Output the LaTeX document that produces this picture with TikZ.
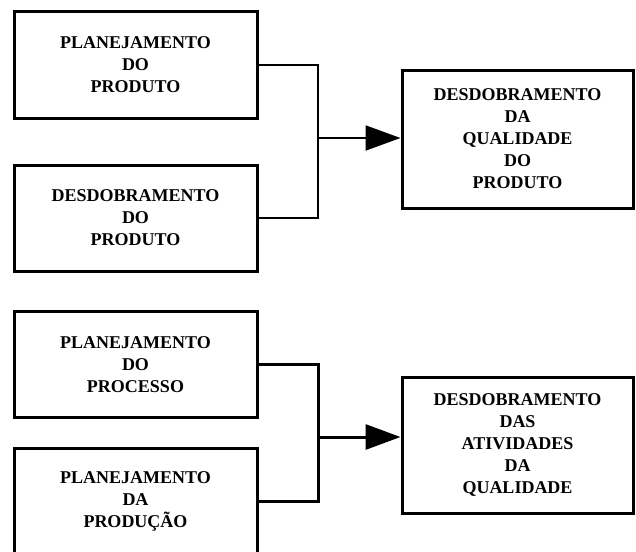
\documentclass[tikz,border=0pt]{standalone}
\usepackage{fontspec}
\setmainfont{Liberation Serif}
\usetikzlibrary{arrows.meta}

\begin{document}
\begin{tikzpicture}[x=1pt,y=-1pt,>={Triangle[length=35pt,width=25pt]},line width=2.5pt,
  bloco/.style={draw,line width=3pt,align=center,inner sep=0pt,
    minimum width=243pt,minimum height=106pt,
    font=\fontsize{18}{22}\selectfont\bfseries},
  blocod/.style={bloco,minimum width=231pt}]
\useasboundingbox (0,0) rectangle (636,551);
% entradas
\node[bloco] (plprod) at (135.5,65) {PLANEJAMENTO\\DO\\PRODUTO};
\node[bloco] (dsprod) at (135.5,218) {DESDOBRAMENTO\\DO\\PRODUTO};
\node[bloco] (plproc) at (135.5,364.5) {PLANEJAMENTO\\DO\\PROCESSO};
\node[bloco] (plpdc) at (135.5,501) {PLANEJAMENTO\\DA\\PRODUÇÃO};
% resultados
\node[blocod,minimum height=138pt] (dqp) at (517.5,139) {DESDOBRAMENTO\\DA\\QUALIDADE\\DO\\PRODUTO};
\node[blocod,minimum height=136pt] (daq) at (517.5,445) {DESDOBRAMENTO\\DAS\\ATIVIDADES\\DA\\QUALIDADE};
% ligacoes
\coordinate (jA) at (318,138);
\coordinate (jB) at (318,437);
\draw[line width=2pt] (plprod.east) -| (jA) |- (dsprod.east);
\draw[line width=2pt,->] (jA) -- (jA -| dqp.west);
\draw[line width=3pt] (plproc.east) -| (jB) |- (plpdc.east);
\draw[line width=3pt,->] (jB) -- (jB -| daq.west);
\end{tikzpicture}
\end{document}
